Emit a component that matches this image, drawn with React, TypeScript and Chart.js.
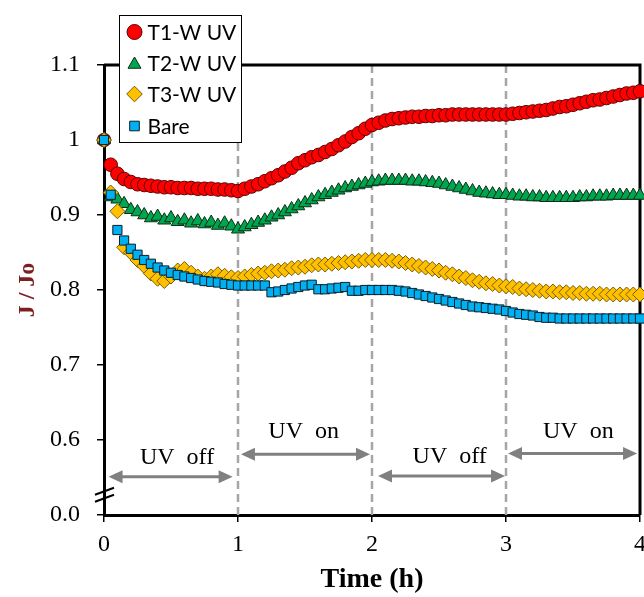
import React, { useEffect, useRef } from "react";
import { Chart, registerables } from "chart.js";

Chart.register(...registerables);

const timeH = [0,0.05,0.1,0.15,0.2,0.25,0.3,0.35,0.4,0.45,0.5,0.55,0.6,0.65,0.7,0.75,0.8,0.85,0.9,0.95,1,1.05,1.1,1.15,1.2,1.25,1.3,1.35,1.4,1.45,1.5,1.55,1.6,1.65,1.7,1.75,1.8,1.85,1.9,1.95,2,2.05,2.1,2.15,2.2,2.25,2.3,2.35,2.4,2.45,2.5,2.55,2.6,2.65,2.7,2.75,2.8,2.85,2.9,2.95,3,3.05,3.1,3.15,3.2,3.25,3.3,3.35,3.4,3.45,3.5,3.55,3.6,3.65,3.7,3.75,3.8,3.85,3.9,3.95,4];

const t1WUV = [
  1.000,0.967,0.955,0.948,0.944,0.941,0.940,0.939,0.938,0.937,0.937,0.936,0.936,0.936,0.935,0.935,0.935,0.934,0.934,0.933,0.932,
  0.935,0.938,0.941,0.945,0.949,0.953,0.958,0.963,0.969,0.973,0.977,0.980,0.984,0.988,0.993,0.998,1.004,1.009,1.015,1.020,
  1.023,1.026,1.028,1.029,1.030,1.031,1.031,1.032,1.032,1.033,1.033,1.034,1.034,1.034,1.034,1.034,1.034,1.034,1.034,1.034,
  1.035,1.036,1.037,1.038,1.039,1.040,1.042,1.044,1.045,1.047,1.049,1.051,1.053,1.054,1.056,1.058,1.060,1.062,1.063,1.065
];
const t2WUV = [
  1.000,0.924,0.921,0.915,0.907,0.904,0.900,0.896,0.898,0.893,0.896,0.891,0.893,0.889,0.892,0.888,0.890,0.886,0.889,0.885,0.881,
  0.884,0.887,0.890,0.893,0.897,0.900,0.904,0.908,0.912,0.916,0.920,0.924,0.927,0.930,0.933,0.936,0.938,0.940,0.942,0.944,
  0.945,0.946,0.946,0.946,0.946,0.945,0.945,0.944,0.943,0.942,0.940,0.938,0.936,0.934,0.932,0.930,0.929,0.928,0.927,0.927,
  0.926,0.925,0.925,0.924,0.924,0.923,0.923,0.923,0.923,0.923,0.924,0.924,0.925,0.925,0.925,0.926,0.926,0.926,0.926,0.926
];
const t3WUV = [
  1.000,0.930,0.905,0.857,0.850,0.840,0.832,0.822,0.815,0.812,0.818,0.826,0.828,0.823,0.818,0.815,0.818,0.821,0.819,0.817,0.816,
  0.818,0.820,0.822,0.823,0.825,0.826,0.827,0.829,0.830,0.831,0.833,0.834,0.834,0.835,0.836,0.837,0.838,0.839,0.840,0.840,
  0.840,0.840,0.839,0.838,0.836,0.834,0.832,0.830,0.828,0.826,0.823,0.821,0.818,0.816,0.813,0.811,0.809,0.808,0.806,0.805,
  0.804,0.802,0.801,0.800,0.799,0.798,0.798,0.797,0.797,0.796,0.796,0.795,0.795,0.795,0.794,0.794,0.794,0.794,0.794,0.794
];
const bare = [
  1.000,0.927,0.880,0.866,0.855,0.847,0.840,0.835,0.830,0.826,0.823,0.820,0.818,0.816,0.814,0.812,0.811,0.810,0.808,0.807,0.806,
  0.806,0.806,0.806,0.806,0.797,0.798,0.800,0.802,0.804,0.806,0.807,0.801,0.801,0.802,0.803,0.804,0.799,0.799,0.800,0.800,
  0.800,0.800,0.800,0.799,0.798,0.796,0.794,0.792,0.790,0.788,0.786,0.784,0.782,0.780,0.778,0.777,0.776,0.775,0.774,0.772,
  0.770,0.768,0.767,0.766,0.764,0.763,0.763,0.762,0.762,0.762,0.762,0.762,0.762,0.762,0.762,0.762,0.762,0.762,0.762,0.762
];

const seriesNames = ["T1-W UV", "T2-W UV", "T3-W UV", "Bare"];
const seriesValues = [t1WUV, t2WUV, t3WUV, bare];
const xTickLabels = ["0", "1", "2", "3", "4"];
const yTickLabels = ["0.0", "0.6", "0.7", "0.8", "0.9", "1", "1.1"];
const phaseBoundaries = [1, 2, 3];
const phaseLabels = ["UV  off", "UV  on", "UV  off", "UV  on"];
const arrowStart = [0.034, 1.022, 2.045, 3.015];
const arrowEnd = [0.96, 1.985, 2.993, 3.978];
const arrowLevel = [0.551, 0.581, 0.552, 0.582];
const labelX = [0.545, 1.49, 2.58, 3.54];
const labelLevel = [0.577, 0.611, 0.578, 0.611];
const axisBreakAt = 0.527;

type Shape = "circle" | "triangle" | "rectRot" | "rect";
const markerStyles: { fill: string; stroke: string; shape: Shape; r: number; lr: number }[] = [
  { fill: "#ff0000", stroke: "#5a0000", shape: "circle", r: 6.8, lr: 7.5 },
  { fill: "#00a550", stroke: "#0b2e14", shape: "triangle", r: 7.5, lr: 7.5 },
  { fill: "#ffc000", stroke: "#7a5c00", shape: "rectRot", r: 7.5, lr: 7.8 },
  { fill: "#00b0f0", stroke: "#0a1f2a", shape: "rect", r: 6.5, lr: 6.8 },
];

function drawShape(ctx: CanvasRenderingContext2D, shape: Shape, x: number, y: number, r: number) {
  ctx.beginPath();
  if (shape === "circle") {
    ctx.arc(x, y, r, 0, Math.PI * 2);
  } else if (shape === "triangle") {
    for (let k = 0; k < 3; k++) {
      const a = -Math.PI / 2 + (k * 2 * Math.PI) / 3;
      const px = x + Math.cos(a) * r;
      const py = y + Math.sin(a) * r + r * 0.2;
      if (k === 0) ctx.moveTo(px, py);
      else ctx.lineTo(px, py);
    }
    ctx.closePath();
  } else if (shape === "rectRot") {
    ctx.moveTo(x, y - r);
    ctx.lineTo(x + r, y);
    ctx.lineTo(x, y + r);
    ctx.lineTo(x - r, y);
    ctx.closePath();
  } else {
    const h = r * Math.SQRT1_2;
    ctx.rect(x - h, y - h, 2 * h, 2 * h);
  }
  ctx.fill();
  ctx.stroke();
}

const decorPlugin = {
  id: "decor",
  beforeDatasetsDraw(chart: any) {
    const { ctx, chartArea: a, scales } = chart;
    const xs = scales.x;
    const ys = scales.y;
    ctx.save();
    ctx.strokeStyle = "#a6a6a6";
    ctx.lineWidth = 2.5;
    ctx.setLineDash([8, 5]);
    for (const v of phaseBoundaries) {
      const px = Math.round(xs.getPixelForValue(v));
      ctx.beginPath();
      ctx.moveTo(px, a.top);
      ctx.lineTo(px, a.bottom);
      ctx.stroke();
    }
    ctx.setLineDash([]);
    ctx.strokeStyle = "#000";
    ctx.lineWidth = 3;
    ctx.beginPath();
    ctx.moveTo(a.left, a.top);
    ctx.lineTo(a.right, a.top);
    ctx.lineTo(a.right, a.bottom);
    ctx.stroke();
    ctx.strokeStyle = "#808080";
    ctx.fillStyle = "#808080";
    ctx.lineWidth = 3;
    const head = 14;
    const hw = 6.5;
    for (let i = 0; i < arrowStart.length; i++) {
      const x0 = xs.getPixelForValue(arrowStart[i]);
      const x1 = xs.getPixelForValue(arrowEnd[i]);
      const py = ys.getPixelForValue(arrowLevel[i]);
      ctx.beginPath();
      ctx.moveTo(x0 + head - 2, py);
      ctx.lineTo(x1 - head + 2, py);
      ctx.stroke();
      ctx.beginPath();
      ctx.moveTo(x0, py);
      ctx.lineTo(x0 + head, py - hw);
      ctx.lineTo(x0 + head, py + hw);
      ctx.closePath();
      ctx.fill();
      ctx.beginPath();
      ctx.moveTo(x1, py);
      ctx.lineTo(x1 - head, py - hw);
      ctx.lineTo(x1 - head, py + hw);
      ctx.closePath();
      ctx.fill();
    }
    ctx.fillStyle = "#000";
    ctx.font = "24px 'Liberation Serif'";
    ctx.textAlign = "center";
    ctx.textBaseline = "middle";
    for (let i = 0; i < phaseLabels.length; i++) {
      ctx.fillText(phaseLabels[i], xs.getPixelForValue(labelX[i]), ys.getPixelForValue(labelLevel[i]));
    }
    const by = ys.getPixelForValue(axisBreakAt);
    ctx.strokeStyle = "#000";
    ctx.lineWidth = 2;
    for (const off of [-3.5, 3.5]) {
      ctx.beginPath();
      ctx.moveTo(a.left - 9, by + off + 3.5);
      ctx.lineTo(a.left + 10, by + off - 3.5);
      ctx.stroke();
    }
    ctx.restore();
  },
  afterDraw(chart: any) {
    const { ctx, chartArea: a } = chart;
    ctx.save();
    const bx = a.left + 15.5;
    const by = 15.5;
    const bw = 122;
    const bh = 127;
    ctx.fillStyle = "#fff";
    ctx.fillRect(bx, by, bw, bh);
    ctx.strokeStyle = "#000";
    ctx.lineWidth = 1;
    ctx.strokeRect(bx, by, bw, bh);
    const rows = [32, 63, 94, 126];
    ctx.font = "21px Lato";
    ctx.textAlign = "left";
    ctx.textBaseline = "middle";
    for (let i = 0; i < seriesNames.length; i++) {
      const st = markerStyles[i];
      ctx.fillStyle = st.fill;
      ctx.strokeStyle = st.stroke;
      ctx.lineWidth = 1;
      drawShape(ctx, st.shape, bx + 15, rows[i], st.lr);
      ctx.fillStyle = "#000";
      ctx.fillText(seriesNames[i], bx + 28, rows[i] + 1);
    }
    ctx.restore();
  },
};

export default function App() {
  const ref = useRef<HTMLCanvasElement | null>(null);
  useEffect(() => {
    document.body.style.margin = "0";
    const canvas = ref.current;
    if (!canvas) return;
    const pointStyles = ["circle", "triangle", "rectRot", "rect"];
    const datasets = seriesNames.map((name, i) => ({
      label: name,
      data: timeH.map((t, j) => ({ x: t, y: seriesValues[i][j] })),
      showLine: false,
      pointStyle: pointStyles[i],
      pointRadius: markerStyles[i].r,
      pointBackgroundColor: markerStyles[i].fill,
      pointBorderColor: markerStyles[i].stroke,
      pointBorderWidth: 1,
      order: 4 - i,
      clip: false as any,
    }));
    const chart = new Chart(canvas, {
      type: "scatter",
      data: { datasets },
      options: {
        responsive: false,
        animation: false,
        events: [],
        layout: { autoPadding: false, padding: { top: 65, right: 4, left: 0, bottom: 0 } },
        plugins: { legend: { display: false }, tooltip: { enabled: false } },
        scales: {
          x: {
            type: "linear",
            min: 0,
            max: 4,
            ticks: {
              stepSize: 1,
              color: "#000",
              font: { family: "'Liberation Serif'", size: 24 },
              padding: 8,
              maxRotation: 0,
              callback: (_v: any, idx: number) => xTickLabels[idx],
            },
            grid: { drawOnChartArea: false, drawTicks: true, tickLength: 7, color: "#000", lineWidth: 1.5 },
            border: { display: true, color: "#000", width: 3 },
            title: {
              display: true,
              text: "Time (h)",
              color: "#000",
              font: { family: "'Liberation Serif'", size: 28, weight: "bold" },
              padding: { top: 0, bottom: 0 },
            },
            afterFit: (s: any) => {
              s.height = 82;
              s.paddingLeft = 0;
              s.paddingRight = 0;
            },
          },
          y: {
            type: "linear",
            min: 0.5,
            max: 1.1,
            ticks: {
              stepSize: 0.1,
              color: "#000",
              font: { family: "'Liberation Serif'", size: 24 },
              padding: 17,
              callback: (_v: any, idx: number) => yTickLabels[idx],
            },
            grid: { drawOnChartArea: false, drawTicks: true, tickLength: 7, color: "#000", lineWidth: 1.5 },
            border: { display: true, color: "#000", width: 3 },
            title: {
              display: true,
              text: "J / Jo",
              color: "#7b1f1f",
              font: { family: "'Liberation Serif'", size: 24, weight: "bold" },
              padding: { top: 13.6, bottom: 0 },
            },
            afterFit: (s: any) => {
              s.width = 104;
              s.paddingTop = 0;
              s.paddingBottom = 0;
            },
          },
        },
      },
      plugins: [decorPlugin],
    } as any);
    return () => chart.destroy();
  }, []);
  return <canvas ref={ref} width={644} height={597} style={{ display: "block" }} />;
}
